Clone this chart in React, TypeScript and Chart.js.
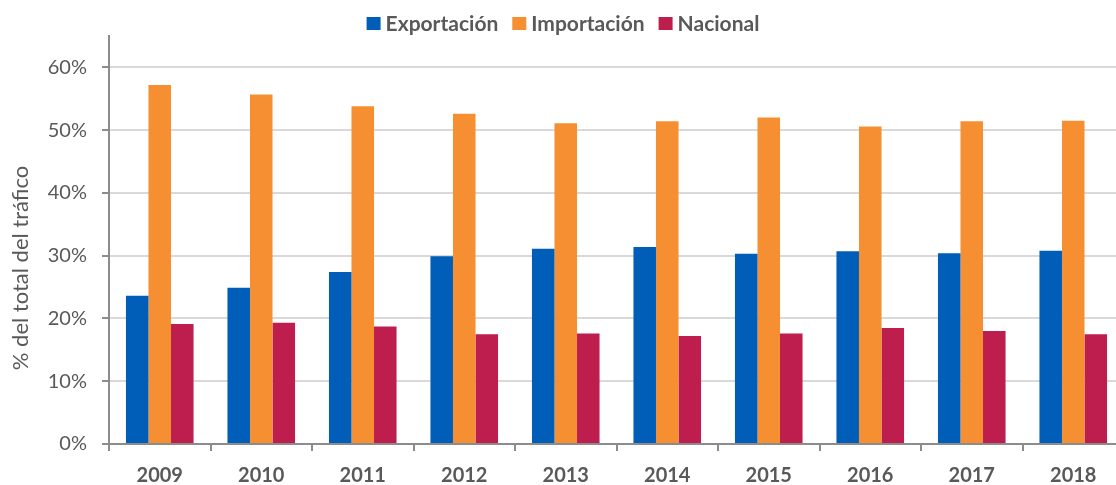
import React, { useEffect, useRef } from "react";
import { Chart, registerables } from "chart.js";

Chart.register(...registerables);

const years = ["2009", "2010", "2011", "2012", "2013", "2014", "2015", "2016", "2017", "2018"];
const exportacion = [23.6, 24.9, 27.4, 29.9, 31.1, 31.4, 30.3, 30.7, 30.4, 30.8];
const importacion = [57.2, 55.7, 53.8, 52.6, 51.1, 51.4, 52.0, 50.6, 51.4, 51.5];
const nacional = [19.1, 19.3, 18.7, 17.5, 17.6, 17.2, 17.6, 18.5, 18.0, 17.5];
const yTickValues = [0, 10, 20, 30, 40, 50, 60];
const seriesNames = ["Exportación", "Importación", "Nacional"];
const seriesColors = ["#005EB8", "#F58F31", "#BE1E4D"];
const yTitle = "% del total del tráfico";

const FONT = "Lato, 'Open Sans', sans-serif";
const TEXT = "#595959";
const AXIS = "#8C8C8C";

const customLegend = {
  id: "customLegend",
  afterDraw(chart: any) {
    const ctx = chart.ctx;
    ctx.save();
    ctx.font = `bold 21px ${FONT}`;
    ctx.textBaseline = "middle";
    ctx.textAlign = "left";
    const box = 14;
    const gap = 5;
    const itemGap = 14;
    const items = chart.data.datasets.map((d: any) => ({
      label: d.label,
      color: d.backgroundColor,
      w: ctx.measureText(d.label).width,
    }));
    const total = items.reduce((s: number, it: any) => s + box + gap + it.w, 0) + itemGap * (items.length - 1);
    let x = 563 - total / 2;
    const cy = 23;
    items.forEach((it: any) => {
      ctx.fillStyle = it.color;
      ctx.fillRect(x, cy - 6, box, 13);
      x += box + gap;
      ctx.fillStyle = TEXT;
      ctx.fillText(it.label, x, cy + 1);
      x += it.w + itemGap;
    });
    // y axis title
    ctx.font = `22px ${FONT}`;
    ctx.textAlign = "center";
    ctx.translate(21, 268);
    ctx.rotate(-Math.PI / 2);
    ctx.fillText(yTitle, 0, 0);
    ctx.restore();
  },
};

export default function App() {
  const ref = useRef<HTMLCanvasElement | null>(null);
  useEffect(() => {
    document.body.style.overflow = "hidden";
    const chart = new Chart(ref.current as HTMLCanvasElement, {
      type: "bar",
      data: {
        labels: years,
        datasets: [exportacion, importacion, nacional].map((vals, i) => ({
          label: seriesNames[i],
          data: vals,
          backgroundColor: seriesColors[i],
          borderWidth: 0,
          categoryPercentage: 0.666,
          barPercentage: 1,
        })),
      },
      options: {
        animation: false,
        responsive: true,
        maintainAspectRatio: false,
        layout: { padding: { top: 36, left: 0, right: 0, bottom: 0 } },
        plugins: {
          legend: { display: false },
          tooltip: { enabled: false },
        },
        scales: {
          x: {
            grid: {
              display: true,
              drawOnChartArea: false,
              offset: true,
              tickLength: 7,
              color: AXIS,
              lineWidth: 2,
            },
            border: { color: AXIS, width: 2 },
            ticks: {
              color: TEXT,
              font: { family: FONT, size: 20, weight: "bold" },
              padding: 13,
              maxRotation: 0,
            },
            afterFit: (s: any) => {
              s.height = 41;
            },
          },
          y: {
            min: 0,
            max: 65,
            grid: {
              color: "#D9D9D9",
              lineWidth: 2,
              tickLength: 7,
              tickColor: AXIS,
              tickWidth: 2,
            },
            border: { color: AXIS, width: 2 },
            ticks: {
              stepSize: 10,
              color: TEXT,
              font: { family: FONT, size: 20 },
              padding: 15,
              callback: (v: any) => `${v}%`,
            },
            afterBuildTicks: (s: any) => {
              s.ticks = yTickValues.map((v) => ({ value: v }));
            },
            afterFit: (s: any) => {
              s.width = 109;
            },
          },
        },
      },
      plugins: [customLegend],
    } as any);
    return () => chart.destroy();
  }, []);
  return (
    <div style={{ position: "fixed", left: 0, top: 0, width: 1124, height: 485 }}>
      <canvas ref={ref} />
    </div>
  );
}
